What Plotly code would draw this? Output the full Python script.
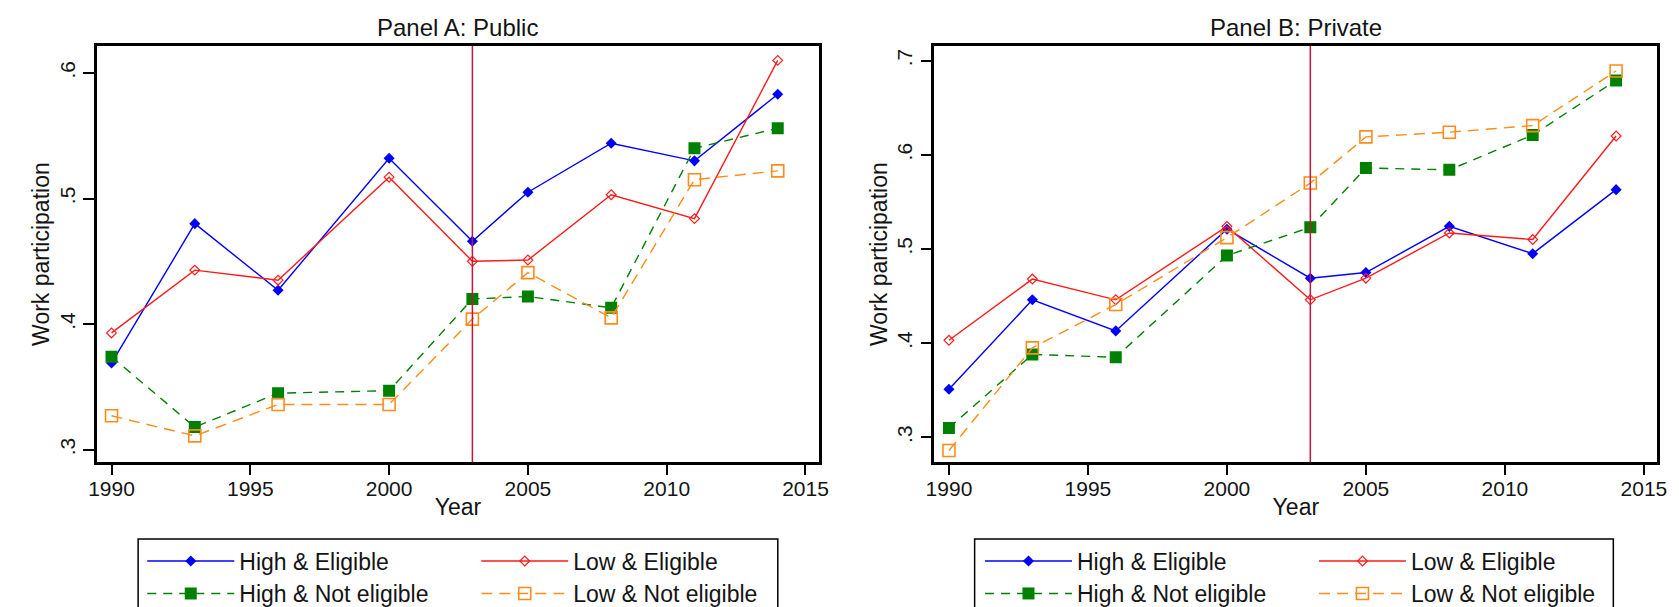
import plotly.graph_objects as go
from plotly.subplots import make_subplots

years = [1990, 1993, 1996, 2000, 2003, 2005, 2008, 2011, 2014]

# Panel A: Public
a_high_elig = [0.369, 0.480, 0.427, 0.532, 0.466, 0.505, 0.544, 0.530, 0.583]
a_low_elig = [0.393, 0.443, 0.435, 0.517, 0.450, 0.451, 0.503, 0.484, 0.610]
a_high_not = [0.374, 0.318, 0.345, 0.347, 0.420, 0.422, 0.413, 0.540, 0.556]
a_low_not = [0.327, 0.311, 0.336, 0.336, 0.404, 0.441, 0.405, 0.515, 0.522]

# Panel B: Private
b_high_elig = [0.351, 0.446, 0.413, 0.521, 0.469, 0.475, 0.524, 0.495, 0.563]
b_low_elig = [0.403, 0.468, 0.446, 0.524, 0.446, 0.469, 0.517, 0.510, 0.620]
b_high_not = [0.310, 0.388, 0.385, 0.493, 0.523, 0.586, 0.584, 0.621, 0.679]
b_low_not = [0.286, 0.395, 0.441, 0.512, 0.570, 0.619, 0.624, 0.631, 0.689]

series_names = ["High & Eligible", "Low & Eligible", "High & Not eligible", "Low & Not eligible"]
panel_titles = ["Panel A: Public", "Panel B: Private"]

x_ticks = [1990, 1995, 2000, 2005, 2010, 2015]
a_yticks = [0.3, 0.4, 0.5, 0.6]
a_yticktext = [".3", ".4", ".5", ".6"]
b_yticks = [0.3, 0.4, 0.5, 0.6, 0.7]
b_yticktext = [".3", ".4", ".5", ".6", ".7"]
reform_year = 2003

FONT = "Arial, Liberation Sans, sans-serif"
TXT = "#141414"

styles = [
    dict(line=dict(color="#0000ff", width=1.4),
         marker=dict(symbol="diamond", size=8.5, color="#0000ff")),
    dict(line=dict(color="#ff1a1a", width=1.4),
         marker=dict(symbol="diamond-open", size=7.5, color="#ff1a1a", line=dict(width=1.2))),
    dict(line=dict(color="#008000", width=1.4, dash="9px,7px"),
         marker=dict(symbol="square", size=12, color="#008000")),
    dict(line=dict(color="#ff8c1a", width=1.4, dash="11px,7px"),
         marker=dict(symbol="square-open", size=12, color="#ff8c1a", line=dict(width=1.6))),
]

fig = make_subplots(rows=1, cols=2, subplot_titles=panel_titles)

panels = [
    (1, [a_high_elig, a_low_elig, a_high_not, a_low_not], ["legend", "legend", "legend2", "legend2"]),
    (2, [b_high_elig, b_low_elig, b_high_not, b_low_not], ["legend3", "legend3", "legend4", "legend4"]),
]
for col, data, legs in panels:
    for name, vals, st, lg in zip(series_names, data, styles, legs):
        fig.add_trace(go.Scatter(x=years, y=vals, name=name, mode="lines+markers",
                                 legend=lg, **st), row=1, col=col)
    fig.add_vline(x=reform_year, line=dict(color="#c8143c", width=1.5), row=1, col=col)

ydom = [0.2504, 0.9374]
axis_common = dict(showline=True, linecolor="black", linewidth=2.5, mirror=True,
                   ticks="outside", tickcolor="black", tickwidth=1.5, showgrid=False,
                   zeroline=False, tickfont=dict(family=FONT, size=21, color=TXT),
                   title_font=dict(family=FONT, size=23, color=TXT))

fig.update_xaxes(**axis_common, tickvals=x_ticks, range=[1989.48, 2015.48], ticklen=10,
                 ticklabelstandoff=-4, title_text="Year", title_standoff=0)
fig.update_yaxes(**axis_common, ticklen=11, tickangle=-90,
                 title_text="Work participation", title_standoff=0)

fig.update_layout(
    xaxis=dict(domain=[81 / 1679, 811 / 1679]),
    xaxis2=dict(domain=[928 / 1679, 1659 / 1679]),
    yaxis=dict(domain=ydom, range=[0.290, 0.6215], tickvals=a_yticks, ticktext=a_yticktext),
    yaxis2=dict(domain=ydom, range=[0.2735, 0.7156], tickvals=b_yticks, ticktext=b_yticktext),
)

# titles
for ann, xc in zip(fig.layout.annotations, [(81 + 811) / 2 / 1679, (928 + 1659) / 2 / 1679]):
    ann.update(x=xc, y=1 - 20 / 607, yanchor="middle", font=dict(family=FONT, size=24, color=TXT))

# legend boxes
boxes = [(122.5, 769.5), (968.6, 1614.6)]
for x0, x1 in boxes:
    fig.add_shape(type="rect", xref="paper", yref="paper", x0=x0 / 1679, x1=x1 / 1679,
                  y0=1 - 606 / 607, y1=1 - 532 / 607, line=dict(color="black", width=1.5))

leg_common = dict(orientation="h", xanchor="left", yanchor="middle", bgcolor="rgba(0,0,0,0)",
                  font=dict(family=FONT, size=23, color=TXT), itemwidth=87, entrywidth=232,
                  traceorder="normal")
fig.update_layout(
    legend=dict(**leg_common, x=126.7 / 1679, y=1 - 554 / 607),
    legend2=dict(**leg_common, x=126.7 / 1679, y=1 - 586.5 / 607),
    legend3=dict(**leg_common, x=974 / 1679, y=1 - 554 / 607),
    legend4=dict(**leg_common, x=974 / 1679, y=1 - 586.5 / 607),
    width=1679, height=607, margin=dict(l=0, r=0, t=0, b=0),
    paper_bgcolor="white", plot_bgcolor="white", showlegend=True,
)

fig.write_html("out.html")
